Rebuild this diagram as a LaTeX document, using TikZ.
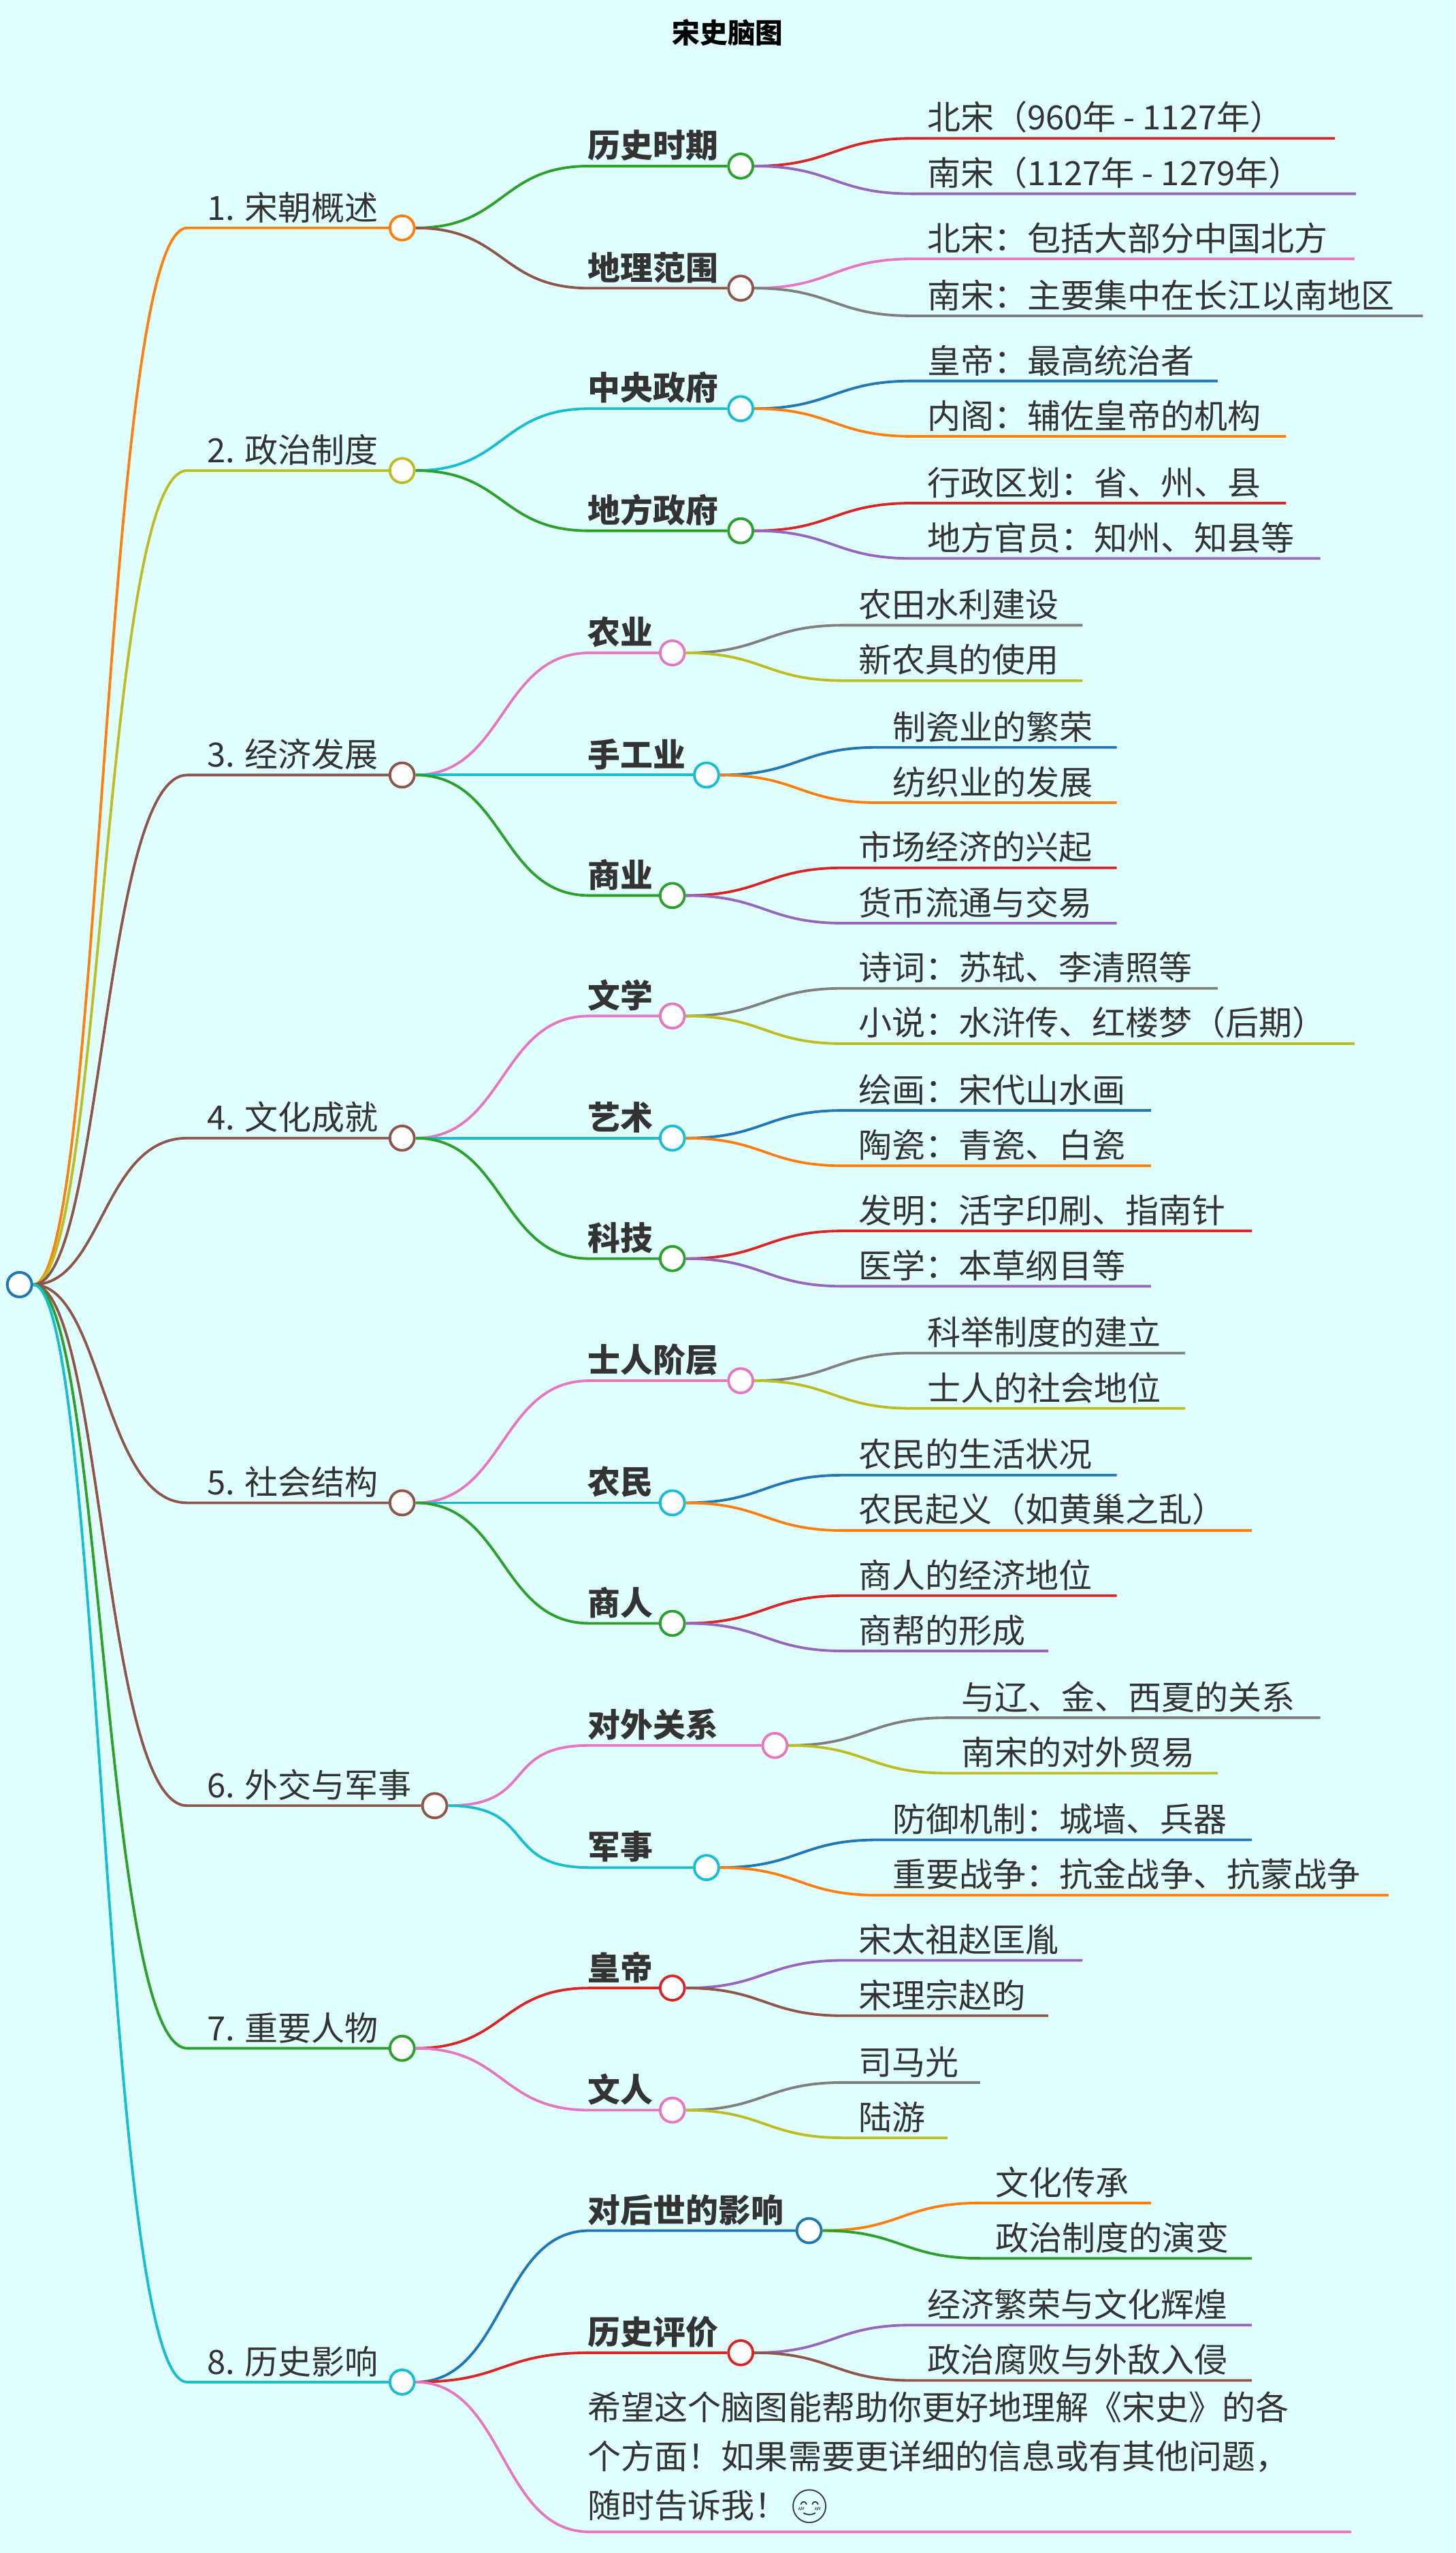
\documentclass[tikz,border=0pt]{standalone}
\usepackage{fontspec}
\setmainfont{Noto Sans CJK SC}
\newfontfamily\emo{Noto Emoji}
\usetikzlibrary{calc}
\definecolor{cred}{HTML}{D62728}\definecolor{cpur}{HTML}{9467BD}
\definecolor{cpink}{HTML}{E377C2}\definecolor{cgray}{HTML}{7F7F7F}
\definecolor{colive}{HTML}{BCBD22}\definecolor{cblue}{HTML}{1F77B4}
\definecolor{corange}{HTML}{FF7F0E}\definecolor{cgreen}{HTML}{2CA02C}
\definecolor{cbrown}{HTML}{8C564B}\definecolor{ccyan}{HTML}{17BECF}
\definecolor{bg}{HTML}{E0FFFF}\definecolor{txt}{HTML}{333333}
\tikzset{
 edge/.style={line width=1.6pt},
 dot/.style={circle,fill=white,line width=1.6pt,minimum size=15pt,inner sep=0pt},
 lab/.style={font=\fontsize{20.5}{24}\selectfont,text=txt,inner sep=3pt,anchor=south west},
 labb/.style={font=\fontsize{20}{24}\selectfont\bfseries,text=txt,inner sep=3pt,anchor=south west},
}
% level1: name, y, cx, color, label
\newcommand\mkone[5]{%
 \node[dot,draw=#4] (#1) at (#3,#2) {};
 \coordinate (#1s) at (115,#2);
 \draw[edge,#4] (root.east) .. controls (63,789) and (63,#2) .. (#1s) -- (#1.west);
 \node[lab] (#1t) at (124,#2) {#5};}
% level2: name, parent, y, cx, color, label
\newcommand\mktwo[6]{%
 \node[dot,draw=#5] (#1) at (#4,#3) {};
 \coordinate (#1s) at (362,#3);
 \draw[edge,#5] (#2.east) .. controls ($(#2.east)+(55,0)$) and ($(#1s)+(-55,0)$) .. (#1s) -- (#1.west);
 \node[labb] (#1t) at (358,#3) {#6};}
% level3: name, parent, y, xe, color, text
\newcommand\mkthree[6]{%
 \coordinate (#1s) at ($(#2.east |- 0,#3)+(97,0)$);
 \coordinate (#1e) at (#4,#3);
 \draw[edge,#5] (#2.east) .. controls ($(#2.east)+(48,0)$) and ($(#1s)+(-48,0)$) .. (#1s) -- (#1e);
 \node[lab] (#1t) at ($(#1s)+(6,0)$) {#6};}
\begin{document}
\begin{tikzpicture}[x=1pt,y=-1pt]
\fill[bg] (0,0) rectangle (894,1568);
\useasboundingbox (0,0) rectangle (894,1568);
\node[font=\fontsize{17}{20}\selectfont\bfseries,text=black] (title) at (447,20) {宋史脑图};
\node[dot,draw=cblue] (root) at (12,789) {};
\mkone{a}{140}{247}{corange}{1. 宋朝概述}
\mkone{b}{289}{247}{colive}{2. 政治制度}
\mkone{c}{476}{247}{cbrown}{3. 经济发展}
\mkone{d}{699}{247}{cbrown}{4. 文化成就}
\mkone{e}{923}{247}{cbrown}{5. 社会结构}
\mkone{f}{1109}{267}{cbrown}{6. 外交与军事}
\mkone{g}{1258}{247}{cgreen}{7. 重要人物}
\mkone{h}{1463}{247}{ccyan}{8. 历史影响}
\node[dot,draw=cblue] (root2) at (12,789) {};
\mktwo{a1}{a}{102}{455}{cgreen}{历史时期}
\mktwo{a2}{a}{177}{455}{cbrown}{地理范围}
\mktwo{b1}{b}{251}{455}{ccyan}{中央政府}
\mktwo{b2}{b}{326}{455}{cgreen}{地方政府}
\mktwo{c1}{c}{401}{413}{cpink}{农业}
\mktwo{c2}{c}{476}{434}{ccyan}{手工业}
\mktwo{c3}{c}{550}{413}{cgreen}{商业}
\mktwo{d1}{d}{624}{413}{cpink}{文学}
\mktwo{d2}{d}{699}{413}{ccyan}{艺术}
\mktwo{d3}{d}{773}{413}{cgreen}{科技}
\mktwo{e1}{e}{848}{455}{cpink}{士人阶层}
\mktwo{e2}{e}{923}{413}{ccyan}{农民}
\mktwo{e3}{e}{997}{413}{cgreen}{商人}
\mktwo{f1}{f}{1072}{476}{cpink}{对外关系}
\mktwo{f2}{f}{1147}{434}{ccyan}{军事}
\mktwo{g1}{g}{1221}{413}{cred}{皇帝}
\mktwo{g2}{g}{1296}{413}{cpink}{文人}
\mktwo{h1}{h}{1370}{497}{cblue}{对后世的影响}
\mktwo{h2}{h}{1445}{455}{cred}{历史评价}
\mkthree{a11}{a1}{85}{820}{cred}{北宋（960年 - 1127年）}
\mkthree{a12}{a1}{119}{833}{cpur}{南宋（1127年 - 1279年）}
\mkthree{a21}{a2}{159}{832}{cpink}{北宋：包括大部分中国北方}
\mkthree{a22}{a2}{194}{874}{cgray}{南宋：主要集中在长江以南地区}
\mkthree{b11}{b1}{234}{748}{cblue}{皇帝：最高统治者}
\mkthree{b12}{b1}{268}{790}{corange}{内阁：辅佐皇帝的机构}
\mkthree{b21}{b2}{309}{790}{cred}{行政区划：省、州、县}
\mkthree{b22}{b2}{343}{811}{cpur}{地方官员：知州、知县等}
\mkthree{c11}{c1}{384}{665}{cgray}{农田水利建设}
\mkthree{c12}{c1}{418}{665}{colive}{新农具的使用}
\mkthree{c21}{c2}{459}{686}{cblue}{制瓷业的繁荣}
\mkthree{c22}{c2}{493}{686}{corange}{纺织业的发展}
\mkthree{c31}{c3}{533}{686}{cred}{市场经济的兴起}
\mkthree{c32}{c3}{567}{686}{cpur}{货币流通与交易}
\mkthree{d11}{d1}{607}{748}{cgray}{诗词：苏轼、李清照等}
\mkthree{d12}{d1}{641}{832}{colive}{小说：水浒传、红楼梦（后期）}
\mkthree{d21}{d2}{682}{707}{cblue}{绘画：宋代山水画}
\mkthree{d22}{d2}{716}{707}{corange}{陶瓷：青瓷、白瓷}
\mkthree{d31}{d3}{756}{769}{cred}{发明：活字印刷、指南针}
\mkthree{d32}{d3}{790}{707}{cpur}{医学：本草纲目等}
\mkthree{e11}{e1}{831}{728}{cgray}{科举制度的建立}
\mkthree{e12}{e1}{865}{728}{colive}{士人的社会地位}
\mkthree{e21}{e2}{906}{686}{cblue}{农民的生活状况}
\mkthree{e22}{e2}{940}{769}{corange}{农民起义（如黄巢之乱）}
\mkthree{e31}{e3}{980}{686}{cred}{商人的经济地位}
\mkthree{e32}{e3}{1014}{644}{cpur}{商帮的形成}
\mkthree{f11}{f1}{1055}{811}{cgray}{与辽、金、西夏的关系}
\mkthree{f12}{f1}{1089}{748}{colive}{南宋的对外贸易}
\mkthree{f21}{f2}{1130}{769}{cblue}{防御机制：城墙、兵器}
\mkthree{f22}{f2}{1164}{853}{corange}{重要战争：抗金战争、抗蒙战争}
\mkthree{g11}{g1}{1204}{665}{cpur}{宋太祖赵匡胤}
\mkthree{g12}{g1}{1238}{644}{cbrown}{宋理宗赵昀}
\mkthree{g21}{g2}{1279}{602}{cgray}{司马光}
\mkthree{g22}{g2}{1313}{582}{colive}{陆游}
\mkthree{h11}{h1}{1353}{707}{corange}{文化传承}
\mkthree{h12}{h1}{1387}{769}{cgreen}{政治制度的演变}
\mkthree{h21}{h2}{1428}{769}{cpur}{经济繁荣与文化辉煌}
\mkthree{h22}{h2}{1462}{769}{cbrown}{政治腐败与外敌入侵}
\coordinate (h3s) at (362,1555);
\coordinate (h3e) at (830,1555);
\draw[edge,cpink] (h.east) .. controls ($(h.east)+(55,0)$) and ($(h3s)+(-55,0)$) .. (h3s) -- (h3e);
\node[lab,align=left,font=\fontsize{20.5}{30}\selectfont] (h3t) at (358,1553) {希望这个脑图能帮助你更好地理解《宋史》的各\\个方面！如果需要更详细的信息或有其他问题，\\随时告诉我！{\emo 😊}};
\end{tikzpicture}
\end{document}
